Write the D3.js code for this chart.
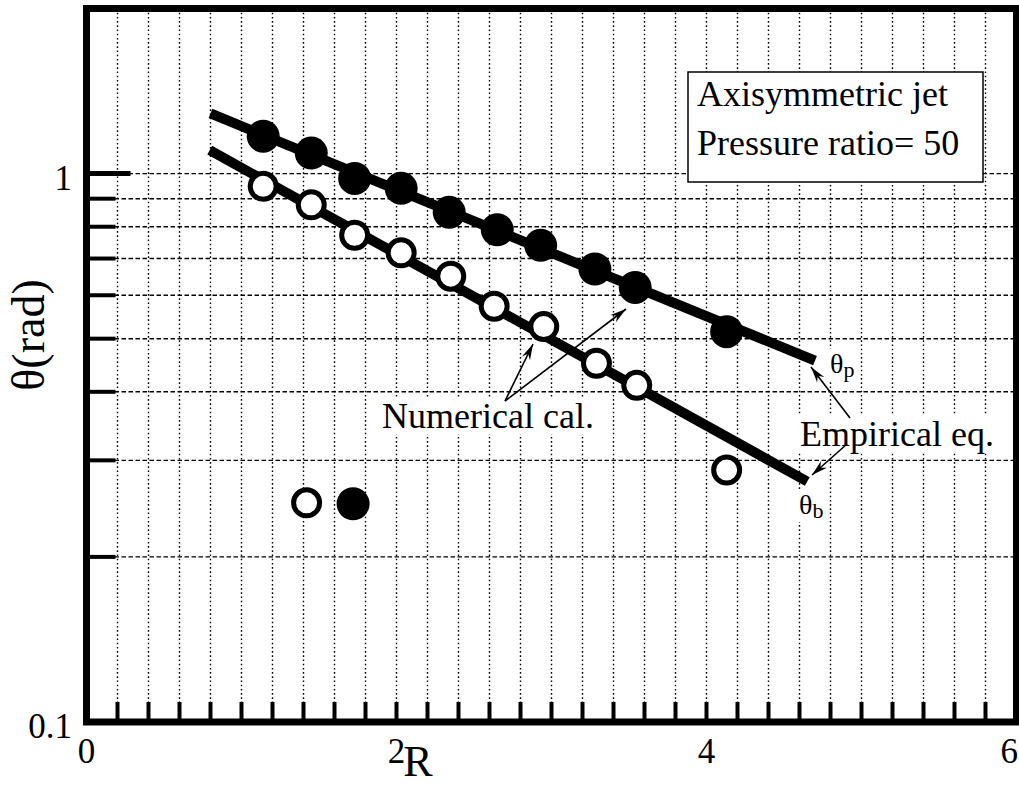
<!DOCTYPE html>
<html>
<head>
<meta charset="utf-8">
<script src="https://cdn.jsdelivr.net/npm/d3@7/dist/d3.min.js"></script>
<style>
  body { margin: 0; background: #fff; }
  svg { display: block; }
  text { font-family: "Liberation Serif", "Times New Roman", serif; fill: #000; }
</style>
</head>
<body>
<svg id="chart" width="1019" height="787"></svg>
<script>
// ---- data ----
// numerical calculation, theta_p (filled circles)
const thetaPNumR = [1.14, 1.45, 1.73, 2.03, 2.34, 2.65, 2.93, 3.28, 3.54, 4.13];
const thetaPNum  = [1.17, 1.09, 0.98, 0.94, 0.85, 0.79, 0.74, 0.67, 0.62, 0.515];
// numerical calculation, theta_b (open circles)
const thetaBNumR = [1.14, 1.45, 1.73, 2.03, 2.35, 2.63, 2.95, 3.29, 3.55, 4.13];
const thetaBNum  = [0.948, 0.877, 0.772, 0.717, 0.65, 0.573, 0.526, 0.451, 0.411, 0.288];
// two stray points in the lower left
const strayFilled = [[1.72, 0.25]];
const strayOpen   = [[1.42, 0.251]];
// empirical equations (end points of the thick lines)
const thetaPEmpR = [0.80, 4.70];
const thetaPEmp  = [1.287, 0.456];
const thetaBEmpR = [0.795, 4.65];
const thetaBEmp  = [1.103, 0.2745];

// ticks
const xTickLabels = [0, 2, 4, 6];
const xMinor = d3.range(1, 30).map(i => i / 5);
const yTickLabels = [0.1, 1];
const yMinor = [0.2, 0.3, 0.4, 0.5, 0.6, 0.7, 0.8, 0.9, 1];

// ---- layout ----
const W = 1019, H = 787;
const plotL = 86.5, plotR = 1016.5, plotT = 8.5, plotB = 722;
const svg = d3.select("#chart");

const x = d3.scaleLinear().domain([0, 6]).range([plotL, plotR]);
const y = d3.scaleLog().domain([0.1, 2]).range([plotB, plotT]);

// grid
const grid = svg.append("g").attr("stroke", "#000").attr("stroke-width", 1.4).attr("fill", "none");
grid.selectAll(".vg").data(xMinor).enter().append("line")
    .attr("x1", d => x(d)).attr("x2", d => x(d))
    .attr("y1", plotT).attr("y2", plotB)
    .attr("stroke-dasharray", "1.6,2.6");
grid.selectAll(".hg").data(yMinor).enter().append("line")
    .attr("x1", plotL).attr("x2", plotR)
    .attr("y1", d => y(d)).attr("y2", d => y(d))
    .attr("stroke-dasharray", "4.5,2.5");

// legend box
svg.append("rect")
    .attr("x", 688).attr("y", 72).attr("width", 295).attr("height", 110)
    .attr("fill", "#fff").attr("stroke", "#000").attr("stroke-width", 1.5);
svg.append("text").attr("x", 697).attr("y", 106).style("font-size", "36px").text("Axisymmetric jet");
svg.append("text").attr("x", 697).attr("y", 155).style("font-size", "36px").text("Pressure ratio= 50");

// empirical lines
const line = d3.line().x(d => x(d[0])).y(d => y(d[1]));
[[thetaPEmpR, thetaPEmp], [thetaBEmpR, thetaBEmp]].forEach(([rs, vs]) => {
  svg.append("path")
      .attr("d", line(rs.map((r, i) => [r, vs[i]])))
      .attr("fill", "none").attr("stroke", "#000")
      .attr("stroke-width", 10).attr("stroke-linecap", "butt");
});

// markers
svg.selectAll(".pf").data(thetaPNumR.map((r, i) => [r, thetaPNum[i]]).concat(strayFilled))
  .enter().append("circle")
    .attr("cx", d => x(d[0])).attr("cy", d => y(d[1])).attr("r", 16.5)
    .attr("fill", "#000");
svg.selectAll(".bo").data(thetaBNumR.map((r, i) => [r, thetaBNum[i]]).concat(strayOpen))
  .enter().append("circle")
    .attr("cx", d => x(d[0])).attr("cy", d => y(d[1])).attr("r", 13)
    .attr("fill", "#fff").attr("stroke", "#000").attr("stroke-width", 5);

// arrow head
svg.append("defs").append("marker")
    .attr("id", "arr").attr("viewBox", "-16 -6 18 12")
    .attr("markerWidth", 18).attr("markerHeight", 12)
    .attr("markerUnits", "userSpaceOnUse")
    .attr("refX", 0).attr("refY", 0).attr("orient", "auto")
  .append("path").attr("d", "M0,0 L-16,-4.5 L-11,0 L-16,4.5 Z").attr("fill", "#000");

// text with a white patch behind it, so the grid does not run through
function label(txt, tx, ty, size) {
  const t = svg.append("text").attr("x", tx).attr("y", ty).style("font-size", size + "px").text(txt);
  const b = t.node().getBBox();
  svg.append("rect")
      .attr("x", b.x - 2).attr("y", b.y + 2).attr("width", b.width + 4).attr("height", b.height - 4)
      .attr("fill", "#fff");
  t.raise();
  return t;
}
function arrow(x1, y1, x2, y2) {
  svg.append("line")
      .attr("x1", x1).attr("y1", y1).attr("x2", x2).attr("y2", y2)
      .attr("stroke", "#000").attr("stroke-width", 1.6)
      .attr("marker-end", "url(#arr)");
}

// annotations
label("Numerical cal.", 382, 428, 36);
arrow(505, 401, 533, 344);
arrow(505, 401, 626, 309);

label("Empirical eq.", 800, 446, 36);
arrow(850, 418, 811, 367);
arrow(847, 444, 812, 475);

function subLabel(main, sub, tx, ty) {
  const t = svg.append("text").attr("x", tx).attr("y", ty).style("font-size", "28px");
  t.append("tspan").text(main);
  t.append("tspan").attr("dy", 4).style("font-size", "22px").text(sub);
  const b = t.node().getBBox();
  svg.append("rect")
      .attr("x", b.x - 2).attr("y", b.y + 1).attr("width", b.width + 4).attr("height", b.height - 2)
      .attr("fill", "#fff");
  t.raise();
}
subLabel("θ", "p", 830, 373);
subLabel("θ", "b", 799, 514);

// ticks
const ticks = svg.append("g").attr("stroke", "#000");
ticks.selectAll(".xt").data(xMinor).enter().append("line")
    .attr("x1", d => x(d)).attr("x2", d => x(d))
    .attr("y1", plotB).attr("y2", plotB - 20)
    .attr("stroke-width", 4);
ticks.selectAll(".yt").data(yMinor).enter().append("line")
    .attr("x1", plotL).attr("x2", d => d === 1 ? plotL + 44 : plotL + 29)
    .attr("y1", d => y(d)).attr("y2", d => y(d))
    .attr("stroke-width", d => d === 1 ? 5 : 4);

// frame
svg.append("rect")
    .attr("x", plotL).attr("y", plotT).attr("width", plotR - plotL).attr("height", plotB - plotT)
    .attr("fill", "none").attr("stroke", "#000").attr("stroke-width", 7);

// tick labels (the last one is pulled in so it stays on the page)
svg.selectAll(".xl").data(xTickLabels).enter().append("text")
    .attr("y", 763)
    .attr("text-anchor", "middle").style("font-size", "35px")
    .text(d => d)
    .each(function(d) {
      const w = this.getComputedTextLength();
      d3.select(this).attr("x", Math.min(x(d), W - 1 - w / 2));
    });
svg.selectAll(".yl").data(yTickLabels).enter().append("text")
    .attr("x", 72).attr("y", d => y(d) + 16)
    .attr("text-anchor", "end").style("font-size", "35px")
    .text(d => d);

// axis titles
svg.append("text")
    .attr("x", 418).attr("y", 776).attr("text-anchor", "middle")
    .style("font-size", "44px").text("R");
svg.append("text")
    .attr("transform", "translate(44,335) rotate(-90)")
    .attr("text-anchor", "middle")
    .style("font-size", "46px").text("θ(rad)");
</script>
</body>
</html>
